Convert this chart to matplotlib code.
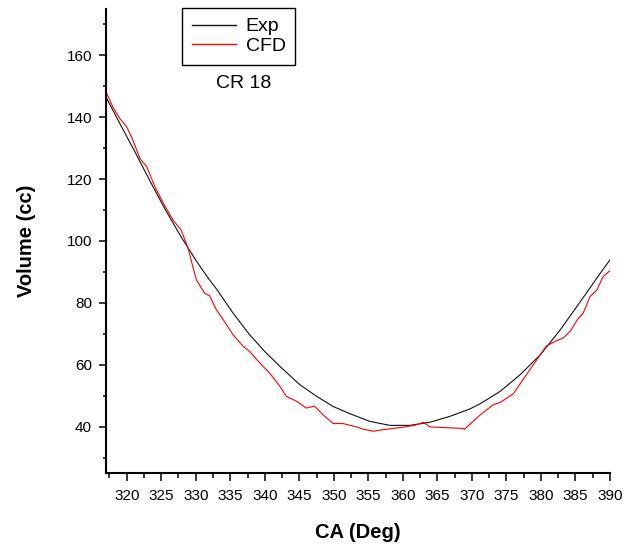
import numpy as np
import matplotlib
matplotlib.use("Agg")
import matplotlib.pyplot as plt
from matplotlib.ticker import MultipleLocator

plt.rcParams['font.family'] = ['Liberation Sans', 'DejaVu Sans']

# Exp curve
exp_ca = [317, 319, 321.2, 323.3, 325.5, 327.7, 330.1, 331.8, 333, 335.4,
          337.8, 340.2, 342.7, 345.1, 347.5, 349.9, 352.3, 355.2, 358.1, 361,
          363.9, 366.8, 369.7, 371.2, 374.1, 377, 379.9, 382.8, 385.7, 388.6,
          390]
exp_vol = [146.5, 138, 128.8, 119.7, 110.5, 102, 93.5, 88, 84.5, 76.7,
           69.7, 63.8, 58.4, 53.5, 49.8, 46.5, 44.2, 41.7, 40.4, 40.4,
           41.4, 43.3, 45.7, 47.4, 51.4, 56.8, 63.2, 71.3, 80.4, 89.6,
           93.9]

# CFD curve
cfd_ca = [317, 318, 319, 320, 320.9, 321.9, 322.9, 324.1, 325.3, 326.7,
          327.9, 328.9, 329.6, 330.1, 331.3, 332, 333, 334, 335.4, 336.9,
          337.8, 339.3, 340.7, 342.2, 343.1, 344.6, 346, 347.2, 348.4, 349.9,
          351.3, 353.3, 354.2, 355.7, 357.1, 358.6, 360, 361.7, 363, 363.9,
          368.7, 368.9, 371.2, 373.1, 374.1, 376, 377.4, 379.4, 380.8, 382.3,
          383.2, 384.2, 385.4, 386.1, 387.1, 388.1, 389, 390]
cfd_vol = [148.2, 143.3, 139.6, 136.9, 132.6, 126.7, 124, 117.5, 112.2, 106.8,
           103.5, 97.6, 91.5, 87.4, 83.1, 82.3, 77.7, 74.5, 69.7, 65.9,
           64.3, 60.5, 57.3, 53, 49.8, 48.2, 46, 46.6, 43.9, 41,
           41, 39.9, 39.2, 38.5, 39, 39.4, 39.8, 40.4, 41.4, 39.9,
           39.4, 39.1, 43.8, 47.1, 47.8, 50.6, 55.2, 61.6, 66.1, 67.8,
           68.6, 70.7, 75, 76.6, 82, 84.2, 88.5, 90.4]

fig = plt.figure(figsize=(6.38, 5.48), dpi=100)
ax = fig.add_axes([106 / 638, 1 - 473 / 548, 504 / 638, 464 / 548])

ax.plot(exp_ca, exp_vol, color='#111111', linewidth=0.8, label='Exp')
ax.plot(cfd_ca, cfd_vol, color='#ff0000', linewidth=0.8, label='CFD')

ax.set_xlim(317, 390)
ax.set_ylim(25, 175)
ax.xaxis.set_major_locator(MultipleLocator(5))
ax.xaxis.set_minor_locator(MultipleLocator(2.5))
ax.yaxis.set_minor_locator(MultipleLocator(10))
ax.set_yticks([40, 60, 80, 100, 120, 140, 160])

for side in ['top', 'right']:
    ax.spines[side].set_visible(False)
for side in ['left', 'bottom']:
    ax.spines[side].set_linewidth(1.5)

ax.tick_params(axis='x', which='major', length=5.5, width=1.1, direction='out',
               labelsize=11, pad=6)
ax.tick_params(axis='x', which='minor', length=3.5, width=1.1, direction='out')
ax.tick_params(axis='y', which='major', length=5, width=1.1, direction='out',
               labelsize=11, pad=5)
ax.tick_params(axis='y', which='minor', length=2.5, width=1.1, direction='out')

ax.set_xlabel('CA (Deg)', fontsize=14.5, fontweight='bold')
ax.set_ylabel('Volume (cc)', fontsize=14.5, fontweight='bold')
ax.xaxis.label.set_va('center')
ax.yaxis.label.set_va('center')
ax.xaxis.set_label_coords(0.5, (473 - 533) / 464)
ax.yaxis.set_label_coords((26 - 106) / 504, 0.5)

leg = ax.legend(loc='upper left', bbox_to_anchor=(182 / 638, 1 - 8 / 548),
                bbox_transform=fig.transFigure, borderaxespad=0,
                fontsize=14, handlelength=2.27, handletextpad=0.5,
                borderpad=0.5, labelspacing=0.1, fancybox=False,
                framealpha=1, edgecolor='black')
leg.get_frame().set_linewidth(1.0)
for line in leg.get_lines():
    line.set_linewidth(1.0)

fig.text(243.7 / 638, 1 - 83.3 / 548, 'CR 18', fontsize=14,
         ha='center', va='center')

fig.savefig('out.png', dpi=100)
